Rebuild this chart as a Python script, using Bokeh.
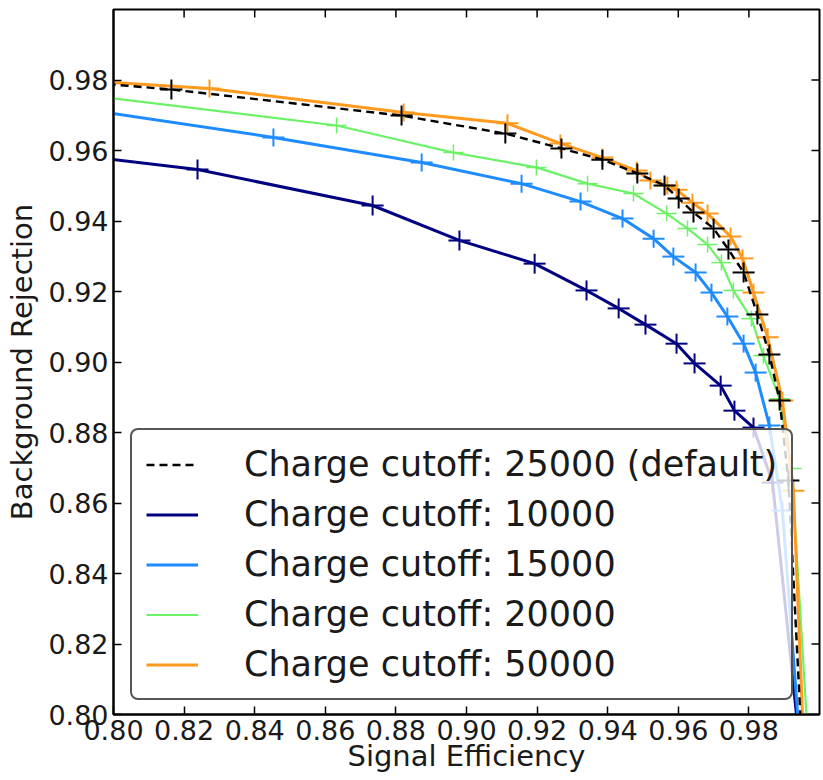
import numpy as np
from bokeh.plotting import figure
from bokeh.models import Range1d, FixedTicker, PrintfTickFormatter, Legend, LegendItem
from bokeh.embed import file_html
from bokeh.resources import INLINE

FONT = "DejaVu Sans"
TEXT = "#1a1a1a"

# axis ticks
tick_values = [0.80, 0.82, 0.84, 0.86, 0.88, 0.90, 0.92, 0.94, 0.96, 0.98]

# ROC points: signal efficiency vs background rejection per charge cutoff
eff_10000 = [0.78, 0.8238, 0.8734, 0.8980, 0.9193, 0.9340, 0.9431, 0.9507, 0.9595,
             0.9646, 0.9720, 0.9759, 0.9813, 0.9867, 0.9976]
rej_10000 = [0.9598, 0.9546, 0.9444, 0.9345, 0.9279, 0.9203, 0.9152, 0.9106, 0.9052,
             0.8996, 0.8933, 0.8862, 0.8814, 0.8658, 0.76]

eff_15000 = [0.78, 0.8453, 0.8873, 0.9156, 0.9323, 0.9442, 0.9530, 0.9586, 0.9649,
             0.9694, 0.9739, 0.9785, 0.9819, 0.9858, 0.9895, 0.9968]
rej_15000 = [0.9735, 0.9637, 0.9566, 0.9506, 0.9455, 0.9407, 0.9350, 0.9299, 0.9254,
             0.9197, 0.9129, 0.9052, 0.8970, 0.8820, 0.8579, 0.76]

eff_20000 = [0.78, 0.8632, 0.8963, 0.9198, 0.9343, 0.9473, 0.9567, 0.9626, 0.9683,
             0.9722, 0.9756, 0.9807, 0.9841, 0.9887, 0.9921, 0.9987]
rej_20000 = [0.9772, 0.9671, 0.9594, 0.9552, 0.9506, 0.9478, 0.9421, 0.9379, 0.9333,
             0.9282, 0.9203, 0.9123, 0.9018, 0.8896, 0.8698, 0.76]

eff_50000 = [0.78, 0.8272, 0.8822, 0.9116, 0.9266, 0.9385, 0.9482, 0.9521, 0.9569,
             0.9595, 0.9640, 0.9683, 0.9748, 0.9782, 0.9813, 0.9853, 0.9895, 0.9926,
             0.9968]
rej_50000 = [0.9805, 0.9776, 0.9708, 0.9677, 0.9620, 0.9580, 0.9543, 0.9515, 0.9501,
             0.9489, 0.9452, 0.9421, 0.9356, 0.9294, 0.9197, 0.9070, 0.8891, 0.8635,
             0.76]

eff_25000 = [0.78, 0.8164, 0.8816, 0.9110, 0.9269, 0.9385, 0.9484, 0.9561, 0.9601,
             0.9643, 0.9700, 0.9742, 0.9785, 0.9824, 0.9858, 0.9887, 0.9912, 0.9966]
rej_25000 = [0.9804, 0.9773, 0.9699, 0.9648, 0.9606, 0.9574, 0.9535, 0.9501, 0.9464,
             0.9424, 0.9379, 0.9319, 0.9254, 0.9135, 0.9021, 0.8891, 0.8664, 0.76]

labels = {
    "25000": "Charge cutoff: 25000 (default)",
    "10000": "Charge cutoff: 10000",
    "15000": "Charge cutoff: 15000",
    "20000": "Charge cutoff: 20000",
    "50000": "Charge cutoff: 50000",
}

X_MIN, X_MAX = 0.80, 1.00
Y_MIN, Y_MAX = 0.80, 1.00

p = figure(width=823, height=780,
           x_range=Range1d(X_MIN, X_MAX), y_range=Range1d(Y_MIN, Y_MAX),
           output_backend="svg", toolbar_location=None,
           min_border_left=113, min_border_right=4,
           min_border_top=9, min_border_bottom=66)

p.xgrid.visible = False
p.ygrid.visible = False
p.outline_line_color = "black"
p.outline_line_width = 2
p.outline_line_alpha = 1.0
p.background_fill_color = "white"
p.border_fill_color = "white"

ticker = FixedTicker(ticks=tick_values)
fmt = PrintfTickFormatter(format="%.2f")

for ax in (p.xaxis[0], p.yaxis[0]):
    ax.ticker = ticker
    ax.formatter = fmt
    ax.major_tick_in = 8
    ax.major_tick_out = 0
    ax.minor_tick_in = 0
    ax.minor_tick_out = 0
    ax.major_tick_line_width = 1.5
    ax.major_tick_line_color = "black"
    ax.axis_line_width = 2
    ax.axis_line_color = "black"
    ax.major_label_text_font = FONT
    ax.major_label_text_font_size = "27px"
    ax.major_label_text_color = TEXT
    ax.axis_label_text_font = FONT
    ax.axis_label_text_font_size = "29px"
    ax.axis_label_text_font_style = "normal"
    ax.axis_label_text_color = TEXT

p.xaxis.axis_label = "Signal Efficiency"
p.yaxis.axis_label = "Background Rejection"
p.xaxis.major_label_standoff = 5
p.yaxis.major_label_standoff = 5
p.xaxis.axis_label_standoff = -4
p.yaxis.axis_label_standoff = 6

# inward tick marks on the top and right edges (half of each dash is clipped by the frame)
inner_ticks = tick_values[1:]
p.scatter(inner_ticks, [Y_MAX] * len(inner_ticks), marker="dash", size=16,
          angle=np.pi / 2, line_color="black", line_width=1.5)
p.scatter([X_MAX] * len(inner_ticks), inner_ticks, marker="dash", size=16,
          line_color="black", line_width=1.5)

series = [
    ("10000", eff_10000, rej_10000, "#000080", "solid", 3.0, 22, 20, 2.0),
    ("15000", eff_15000, rej_15000, "#1e8cff", "solid", 3.0, 22, 18, 2.0),
    ("20000", eff_20000, rej_20000, "#6cf266", "solid", 2.2, 20, 16, 1.5),
    ("50000", eff_50000, rej_50000, "#ff9a1f", "solid", 3.0, 22, 18, 2.0),
    ("25000", eff_25000, rej_25000, "black", "8 5", 2.4, 22, 20, 2.0),
]

line_renderers = {}
for key, xs, ys, color, dash, lw, hsize, vsize, mlw in series:
    r = p.line(xs, ys, line_color=color, line_width=lw, line_dash=dash)
    p.scatter(xs, ys, marker="dash", size=hsize, line_color=color, line_width=mlw)
    p.scatter(xs, ys, marker="dash", size=vsize, angle=np.pi / 2,
              line_color=color, line_width=mlw)
    line_renderers[key] = r

legend_order = ["25000", "10000", "15000", "20000", "50000"]
legend = Legend(
    items=[LegendItem(label=labels[k], renderers=[line_renderers[k]]) for k in legend_order],
    location=(17, 14),
    orientation="vertical",
    label_text_font=FONT,
    label_text_font_size="35px",
    label_text_color=TEXT,
    glyph_width=52, glyph_height=35, label_height=35,
    spacing=10, padding=14, margin=0, label_standoff=46,
    border_line_color="#444444", border_line_width=2, border_line_alpha=0.9,
    background_fill_color="white", background_fill_alpha=0.8,
)
if "border_radius" in Legend.properties():
    legend.border_radius = 8
p.add_layout(legend, "center")

open("out.html", "w").write(file_html(p, INLINE))
